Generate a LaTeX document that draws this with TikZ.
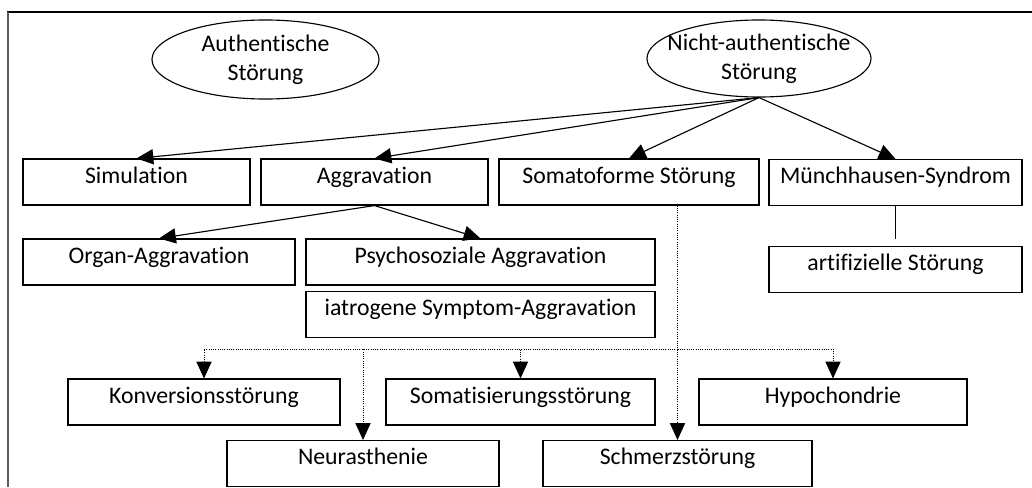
\documentclass[tikz,border=0pt]{standalone}
\usepackage{fontspec}
\setmainfont{Carlito}[Ligatures={NoCommon,NoRequired,NoContextual}]
\usepackage{tikz}
\usetikzlibrary{shapes.geometric, arrows.meta, positioning, calc}
\definecolor{RahmenGrau}{HTML}{5C5C5C}
\tikzset{
    % Kastenstile
    stoerbox/.style={
        rectangle,
        draw=black,
        line width=0.8pt,
        minimum height=1.15cm,
        inner ysep=0pt,
        text height=0.6cm,
        text depth=0.55cm,
        font=\fontsize{16.9}{20.6}\selectfont
    },
    ovalbox/.style={
        ellipse,
        draw=black,
        line width=0.8pt,
        inner sep=0pt
    },
    ovaltext/.style={
        align=center,
        inner sep=0pt,
        font=\fontsize{16.9}{20.6}\selectfont
    },
    % Pfeilstile
    pfeil/.style={
        -{Triangle[length=0.42cm, width=0.38cm]},
        line width=0.8pt
    },
    punktpfeil/.style={
        -{Triangle[length=0.42cm, width=0.38cm]},
        line width=0.6pt,
        densely dotted
    }
}
\begin{document}
\begin{tikzpicture}[x=0.025cm, y=-0.025cm]
    \useasboundingbox (0,0) rectangle (1032,487);

    % Rahmen
    \draw[line width=1.1pt] (7,12) -- (1032,12);
    \draw[line width=1.4pt, RahmenGrau] (8,12) -- (8,487);

    % Ovale
    \node[ovalbox, minimum width=5.675cm, minimum height=1.975cm,
          label={[ovaltext]center:Authentische\\Störung}] (auth) at (265.5,59.5) {};
    \node[ovalbox, minimum width=5.6cm, minimum height=1.925cm,
          label={[ovaltext]center:Nicht-authentische\\Störung}] (nauth) at (759,58.5) {};

    % Erste Ebene
    \node[stoerbox, minimum width=5.675cm] (sim) at (136.5,182) {Simulation};
    \node[stoerbox, minimum width=5.675cm] (aggr) at (374.5,182) {Aggravation};
    \node[stoerbox, minimum width=6.5cm] (soma) at (629,182) {Somatoforme Störung};
    \node[stoerbox, minimum width=6.325cm] (muench) at (895.5,182.5) {Münchhausen-Syndrom};

    % Zweite Ebene
    \node[stoerbox, minimum width=6.8cm] (organ) at (159,262) {Organ-Aggravation};
    \node[stoerbox, minimum width=8.725cm] (psycho) at (480.5,262) {Psychosoziale Aggravation};
    \node[stoerbox, minimum width=8.725cm] (iatro) at (480.5,314.5) {iatrogene Symptom-Aggravation};
    \node[stoerbox, minimum width=6.325cm] (artif) at (895.5,269.5) {artifizielle Störung};

    % Somatoforme Unterformen
    \node[stoerbox, minimum width=6.8cm] (konv) at (204,402) {Konversionsstörung};
    \node[stoerbox, minimum width=6.725cm] (somat) at (520.5,402) {Somatisierungsstörung};
    \node[stoerbox, minimum width=6.7cm] (hypo) at (833,402) {Hypochondrie};
    \node[stoerbox, minimum width=6.8cm] (neur) at (363,463.5) {Neurasthenie};
    \node[stoerbox, minimum width=6.725cm] (schmerz) at (677.5,463.5) {Schmerzstörung};

    % Pfeile von oben
    \draw[pfeil] (nauth.south) -- (sim.north);
    \draw[pfeil] (nauth.south) -- (aggr.north);
    \draw[pfeil] (nauth.south) -- (soma.north);
    \draw[pfeil] (nauth.south) -- (muench.north);

    \draw[pfeil] (aggr.south) -- (organ.north);
    \draw[pfeil] (aggr.south) -- (psycho.north);

    \coordinate (artifende) at ($(artif.north)+(0,-7)$);
    \draw[line width=0.8pt] (muench.south) -- (artifende);

    % gepunktete Verzweigung
    \coordinate (verz) at (677.5,349);
    \draw[punktpfeil] (schmerz.north |- soma.south) -- (schmerz.north);
    \draw[punktpfeil] (verz) -| (konv.north);
    \draw[punktpfeil] (verz) -| (neur.north);
    \draw[punktpfeil] (verz) -| (somat.north);
    \draw[punktpfeil] (verz) -| (hypo.north);
\end{tikzpicture}
\end{document}
